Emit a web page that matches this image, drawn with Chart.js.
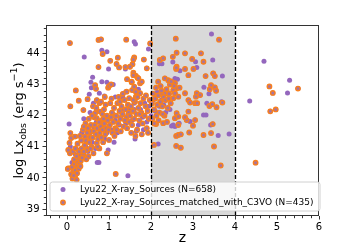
<!DOCTYPE html>
<html><head><meta charset="utf-8">
<script src="https://cdn.jsdelivr.net/npm/chart.js@4.4.1/dist/chart.umd.min.js"></script>
<style>html,body{margin:0;padding:0;background:#fff;}canvas{display:block;}</style>
</head><body>
<canvas id="c" width="340" height="247"></canvas>
<script>
// ---- data (z, log Lx_obs) ----
const xTicks = [0, 1, 2, 3, 4, 5, 6];
const yTicks = [39, 40, 41, 42, 43, 44];
const shadeRange = [2, 4];
const legendLabels = ["Lyu22_X-ray_Sources (N=658)", "Lyu22_X-ray_Sources_matched_with_C3VO (N=435)"];

const matchedPts = [
[0.07,44.33],[0.75,44.43],[0.81,44.45],[1.41,44.44],[0.85,43.98],[1.03,43.76],[1.21,43.86],[1.18,43.66],[1.24,43.55],[1.6,43.87],
[1.58,43.8],[1.39,43.56],[1.56,43.65],[0.75,43.56],[1.58,43.38],[1.64,43.28],[1.43,43.17],[1.54,43.07],[1.68,43.22],[0.67,42.98],
[0.69,42.86],[0.98,42.9],[1.0,42.95],[1.05,43.0],[0.21,42.81],[0.28,42.48],[0.08,42.3],[0.49,42.53],[0.71,42.5],[0.77,42.4],
[1.42,42.77],[1.55,42.82],[1.6,42.93],[1.64,42.77],[1.64,42.61],[1.48,42.56],[1.98,44.32],[1.83,43.8],[1.9,43.52],[1.5,43.57],
[1.58,43.3],[1.7,43.2],[1.54,43.09],[1.74,43.04],[1.78,43.09],[1.74,42.72],
[2.59,44.47],[2.61,44.02],[2.81,44.0],[3.19,44.0],[2.52,43.89],[2.98,43.82],[3.25,43.73],[2.61,43.57],[2.6,43.5],[2.81,43.5],
[3.01,43.5],[2.89,43.3],[3.3,43.27],[3.48,43.36],[3.52,43.27],[3.62,44.44],[2.21,43.79],[2.29,43.84],[2.6,43.54],[2.17,43.09],
[2.41,43.14],[2.57,43.04],[2.61,42.88],[2.53,42.82],[2.57,42.72],[2.65,42.61],[2.53,42.56],[2.41,42.72],[2.33,42.72],[2.25,42.72],
[2.81,42.72],[2.89,42.5],[3.05,42.4],[3.09,42.72],[2.89,42.13],[3.05,41.86],[2.65,41.7],[2.85,41.86],[3.43,42.98],[3.52,42.91],
[3.55,42.8],[3.4,42.85],[3.17,42.66],[3.07,42.61],[2.93,42.42],[3.1,42.4],[3.39,42.31],[3.46,42.37],[3.56,42.27],[3.7,42.42],
[2.61,42.08],[2.81,41.95],[2.57,41.92],[2.65,41.97],[3.0,41.68],[3.47,41.73],[2.5,43.0],[2.55,42.95],[2.68,42.9],
[2.12,41.73],[2.29,41.76],[2.6,41.35],[2.65,41.38],[2.71,41.4],[2.91,41.46],[3.25,41.38],[3.43,41.44],[2.07,41.06],[2.6,41.03],
[2.71,40.97],[3.5,41.01],[3.66,40.4],[4.49,40.49],[4.82,42.94],[5.5,42.87],[4.9,42.73],[4.84,42.14],[4.97,42.2],
[0.03,40.31],[0.15,40.2],[0.19,40.04],[0.23,39.94],[0.07,40.79],[0.14,40.85],[0.06,41.13],[0.08,41.44],[0.02,40.29],[0.1,40.12],
[0.12,40.35],[0.18,40.45],[0.2,40.25],[0.22,40.55],[0.25,40.4],[0.27,40.62],[0.28,40.3],[0.24,40.15],[0.17,40.6],[0.13,39.98],
[0.16,40.08],[0.26,40.5],[0.3,40.45],[0.23,40.7],[0.29,40.85],[0.2,40.95],[0.03,40.9],[0.1,41.28],[0.25,41.1],[0.19,41.33],
[0.31,41.35],[0.35,40.95],[0.39,40.74],[0.43,41.33],[0.47,40.9],[0.51,40.69],[0.55,41.31],[0.59,41.0],[0.33,40.55],[0.36,40.65],
[0.4,40.85],[0.42,41.05],[0.45,41.2],[0.48,41.45],[0.5,41.6],[0.53,41.15],[0.56,40.95],[0.58,41.5],[0.38,41.55],[0.44,41.75],
[0.52,41.9],[0.39,42.18],[0.4,41.65],[0.34,41.2],[0.57,41.7],[0.46,40.6],[0.32,40.38],
[0.63,40.79],[0.71,41.12],[0.67,42.08],[0.79,42.13],[0.71,41.92],[0.83,41.86],[0.61,41.3],[0.64,41.5],[0.66,41.7],[0.69,41.4],
[0.72,41.6],[0.74,41.25],[0.76,41.8],[0.78,41.45],[0.8,41.65],[0.82,41.3],[0.85,41.55],[0.87,41.9],[0.89,41.75],[0.91,41.4],
[0.93,41.6],[0.95,42.0],[0.97,41.85],[0.99,41.55],[0.95,40.79],[0.62,42.3],[0.7,42.25],[0.88,42.2],[0.92,42.35],[0.84,42.05],
[0.77,40.95],[0.73,41.0],[0.86,41.15],[0.65,41.95],[0.81,42.45],[0.9,42.6],[0.6,42.0],
[1.02,41.7],[1.05,41.95],[1.07,42.1],[1.1,41.8],[1.12,42.25],[1.15,41.6],[1.17,42.0],[1.2,42.4],[1.22,41.75],[1.25,42.15],
[1.27,41.9],[1.3,42.3],[1.32,42.05],[1.35,41.65],[1.37,42.5],[1.4,42.2],[1.42,41.95],[1.45,42.35],[1.47,42.1],[1.03,42.4],
[1.08,41.45],[1.13,41.35],[1.18,41.55],[1.23,42.6],[1.28,41.5],[1.33,42.7],[1.38,41.85],[1.43,41.6],[1.48,41.8],[1.16,40.13],
[1.0,41.22],[1.06,42.55],[1.26,42.45],
[1.5,42.0],[1.52,42.3],[1.55,41.7],[1.57,42.15],[1.6,41.9],[1.62,42.45],[1.65,42.05],[1.67,41.55],[1.7,42.25],[1.72,41.85],
[1.75,42.4],[1.77,42.1],[1.8,41.75],[1.82,42.55],[1.85,42.0],[1.87,42.3],[1.9,41.6],[1.92,42.15],[1.95,41.9],[1.97,42.5],
[1.53,41.45],[1.63,41.35],[1.78,41.4],[1.88,42.65],[1.68,42.6],[1.58,42.5],[1.93,41.45],[1.73,42.05],
[2.02,42.4],[2.05,42.7],[2.07,42.2],[2.1,42.55],[2.12,42.9],[2.15,42.35],[2.17,42.65],[2.2,42.1],[2.22,42.45],[2.25,42.8],
[2.27,42.3],[2.3,42.6],[2.32,42.0],[2.35,42.5],[2.37,42.85],[2.4,42.25],[2.42,42.55],[2.45,43.0],[2.47,42.4],[2.03,41.9],
[2.08,41.75],[2.13,42.0],[2.18,41.85],[2.23,42.95],[2.28,42.05],[2.33,43.2],[2.38,41.8],[2.43,42.7],[2.48,43.1]
];

const unmatchedPts = [
[1.6,44.37],[1.63,44.3],[0.41,43.88],[0.83,44.1],[0.95,44.05],[1.39,43.5],[0.99,43.5],[0.61,43.23],[0.57,43.07],[0.83,43.09],
[0.95,43.07],[1.1,43.0],[0.53,42.69],[0.77,42.72],[0.89,42.63],[1.33,42.58],[1.47,42.29],[1.6,42.4],[0.05,41.73],[0.76,40.5],
[0.72,40.5],[1.45,40.07],[0.21,41.33],[0.63,42.4],[1.4,42.77],[1.94,44.14],[2.2,43.67],[2.26,43.67],[3.44,44.62],[2.52,43.72],
[3.06,43.73],[3.47,43.79],[2.69,43.44],[3.09,43.55],[3.7,43.27],[2.57,43.19],[2.63,43.17],[2.45,43.09],[3.26,42.91],[3.38,42.7],
[3.33,42.4],[3.25,42.02],[3.31,42.02],[2.85,41.86],[2.93,41.81],[2.49,41.67],[2.57,41.65],[2.65,41.73],[3.42,41.7],[2.17,41.09],
[2.53,41.7],[2.67,41.76],[3.6,41.36],[3.86,41.41],[3.68,42.45],[4.69,43.75],[5.3,43.14],[5.25,42.73],[4.35,42.47],
[0.12,40.5],[0.2,40.75],[0.27,40.9],[0.08,41.0],[0.35,41.45],[0.45,41.0],[0.5,40.85],[0.55,41.45],[0.6,41.15],[0.65,41.6],
[0.7,41.8],[0.75,41.35],[0.8,41.55],[0.85,41.7],[0.9,41.25],[0.95,41.45],[1.0,41.9],[1.05,41.55],[1.1,42.05],[1.15,41.85],
[1.2,41.45],[1.25,41.7],[1.3,42.0],[1.35,42.2],[1.4,41.75],[1.45,42.05],[1.5,42.15],[1.55,41.85],[1.6,42.2],[1.65,41.5],
[1.7,41.7],[1.75,42.2],[1.8,41.95],[1.85,42.4],[1.9,41.8],[1.95,42.3],[2.05,42.5],[2.1,42.15],[2.15,42.75],[2.2,42.3],
[2.25,42.5],[2.3,42.35],[2.35,42.1],[2.4,42.7],[2.45,42.2],[0.98,40.9],[1.12,41.15],[0.68,40.95],[0.32,40.75],[0.25,40.35],
[0.15,40.4],[1.62,41.25],[1.82,41.55],[2.0,42.0],[0.4,41.9],[0.55,42.1],[0.7,42.15],[1.15,42.6],[1.7,42.85],[0.58,42.9]
];

const allPts = unmatchedPts.concat(matchedPts);
const toXY = a => a.map(p => ({x: p[0], y: p[1]}));

const PURPLE = '#9467bd';
const ORANGE = '#f8801f';
const ORANGE_FILL = '#a8739c';
const FONT = '"DejaVu Sans", sans-serif';

const deco = {
  id: 'deco',
  beforeDatasetsDraw(chart) {
    const {ctx, chartArea: a, scales: {x}} = chart;
    ctx.save();
    ctx.fillStyle = '#d9d9d9';
    const x0 = x.getPixelForValue(shadeRange[0]), x1 = x.getPixelForValue(shadeRange[1]);
    ctx.fillRect(x0, a.top, x1 - x0, a.bottom - a.top);
    ctx.restore();
  },
  afterDatasetsDraw(chart) {
    const {ctx, chartArea: a, scales: {x, y}} = chart;
    ctx.save();
    // dashed lines
    ctx.strokeStyle = '#000';
    ctx.lineWidth = 1.3;
    ctx.setLineDash([4, 2]);
    shadeRange.forEach(v => {
      const px = Math.round(x.getPixelForValue(v)) + 0.5;
      ctx.beginPath(); ctx.moveTo(px, a.top); ctx.lineTo(px, a.bottom); ctx.stroke();
    });
    ctx.setLineDash([]);
    // frame
    ctx.strokeStyle = '#333';
    ctx.lineWidth = 1;
    ctx.strokeRect(Math.round(a.left) + 0.5, Math.round(a.top) + 0.5, Math.round(a.right - a.left) - 1, Math.round(a.bottom - a.top) - 1);
    // minor ticks
    ctx.beginPath();
    for (let i = -2; i <= 30; i++) {
      if (i % 5 === 0) continue;
      const v = i / 5;
      const px = Math.round(x.getPixelForValue(v)) + 0.5;
      if (px < a.left || px > a.right) continue;
      ctx.moveTo(px, a.bottom); ctx.lineTo(px, a.bottom + 2.2);
    }
    for (let i = 194; i <= 224; i++) {
      if (i % 5 === 0) continue;
      const v = i / 5;
      const py = Math.round(y.getPixelForValue(v)) + 0.5;
      if (py < a.top || py > a.bottom) continue;
      ctx.moveTo(a.left, py); ctx.lineTo(a.left - 2.2, py);
    }
    ctx.stroke();
    ctx.restore();
  },
  afterDraw(chart) {
    const {ctx, chartArea: a} = chart;
    ctx.save();
    // legend box
    const lx = 50, ly = 182, lw = 270, lh = 29, r = 2.5;
    ctx.beginPath();
    ctx.moveTo(lx + r, ly); ctx.lineTo(lx + lw - r, ly); ctx.arcTo(lx + lw, ly, lx + lw, ly + r, r);
    ctx.lineTo(lx + lw, ly + lh - r); ctx.arcTo(lx + lw, ly + lh, lx + lw - r, ly + lh, r);
    ctx.lineTo(lx + r, ly + lh); ctx.arcTo(lx, ly + lh, lx, ly + lh - r, r);
    ctx.lineTo(lx, ly + r); ctx.arcTo(lx, ly, lx + r, ly, r); ctx.closePath();
    ctx.fillStyle = 'rgba(255,255,255,0.8)';
    ctx.fill();
    ctx.strokeStyle = '#d0d0d0'; ctx.lineWidth = 1; ctx.stroke();
    // legend markers
    ctx.fillStyle = PURPLE;
    ctx.beginPath(); ctx.arc(63, 189.5, 2.5, 0, Math.PI * 2); ctx.fill();
    ctx.fillStyle = ORANGE_FILL; ctx.strokeStyle = ORANGE; ctx.lineWidth = 1.4;
    ctx.beginPath(); ctx.arc(63, 202.5, 2.2, 0, Math.PI * 2); ctx.fill(); ctx.stroke();
    // legend text
    ctx.fillStyle = '#000';
    ctx.font = '9px ' + FONT;
    ctx.textBaseline = 'middle';
    ctx.textAlign = 'left';
    ctx.fillText(legendLabels[0], 80, 190);
    ctx.fillText(legendLabels[1], 80, 203);
    // x title
    ctx.font = '14px ' + FONT;
    ctx.textAlign = 'center';
    ctx.textBaseline = 'middle';
    ctx.fillText('z', (a.left + a.right) / 2, 238);
    // y title with sub/superscript
    ctx.translate(18, (a.top + a.bottom) / 2);
    ctx.rotate(-Math.PI / 2);
    ctx.textAlign = 'left';
    ctx.textBaseline = 'alphabetic';
    const big = '13px ' + FONT, small = '9.5px ' + FONT;
    const parts = [['log Lx', big, 0], ['obs', small, 3], [' (erg s', big, 0], ['\u22121', small, -5.5], [')', big, 0]];
    let tot = 0;
    parts.forEach(p => { ctx.font = p[1]; tot += ctx.measureText(p[0]).width; });
    let cx = -tot / 2;
    const base = 4.5;
    parts.forEach(p => { ctx.font = p[1]; ctx.fillText(p[0], cx, base + p[2]); cx += ctx.measureText(p[0]).width; });
    ctx.restore();
  }
};

new Chart(document.getElementById('c'), {
  type: 'scatter',
  data: {
    datasets: [
      { label: legendLabels[1], data: toXY(matchedPts), order: 0,
        backgroundColor: ORANGE_FILL, borderColor: ORANGE, borderWidth: 1.4, pointRadius: 2.2 },
      { label: legendLabels[0], data: toXY(allPts), order: 1,
        backgroundColor: PURPLE, borderColor: PURPLE, borderWidth: 0, pointRadius: 2.5 }
    ]
  },
  options: {
    responsive: false,
    animation: false,
    devicePixelRatio: 1,
    layout: { padding: { top: 25, right: 21, left: 0, bottom: 0 } },
    plugins: { legend: { display: false }, tooltip: { enabled: false } },
    scales: {
      x: {
        type: 'linear', min: -0.5, max: 6,
        afterBuildTicks: s => { s.ticks = xTicks.map(v => ({value: v})); },
        afterFit: s => { s.height = 31; },
        grid: { display: true, drawOnChartArea: false, drawTicks: true, tickLength: 3.5, color: '#333', lineWidth: 1 },
        border: { display: false },
        ticks: { color: '#000', font: { size: 10, family: FONT }, padding: 2, maxRotation: 0, autoSkip: false }
      },
      y: {
        type: 'linear', min: 38.78, max: 44.91,
        afterBuildTicks: s => { s.ticks = yTicks.map(v => ({value: v})); },
        afterFit: s => { s.width = 46; },
        grid: { display: true, drawOnChartArea: false, drawTicks: true, tickLength: 3.5, color: '#333', lineWidth: 1 },
        border: { display: false },
        ticks: { color: '#000', font: { size: 10, family: FONT }, padding: 3, autoSkip: false }
      }
    }
  },
  plugins: [deco]
});
</script>
</body></html>
